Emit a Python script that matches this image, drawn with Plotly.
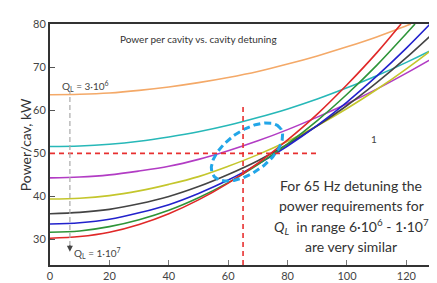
import numpy as np
import plotly.graph_objects as go

# Data
detuning_red = [0, 10, 20, 30, 40, 50, 60, 70, 80, 90, 100, 110, 118.2]
power_red = [30.3, 30.7, 31.7, 33.5, 36.0, 39.2, 43.1, 47.7, 53.1, 59.1, 65.9, 73.3, 80.0]

detuning_green = [0, 10, 20, 30, 40, 50, 60, 70, 80, 90, 100, 110, 120, 122.9]
power_green = [31.7, 32.0, 33.0, 34.6, 36.8, 39.7, 43.2, 47.4, 52.2, 57.6, 63.7, 70.4, 77.8, 80.0]

detuning_blue = [0, 10, 20, 30, 40, 50, 60, 70, 80, 90, 100, 110, 120, 128]
power_blue = [33.6, 33.9, 34.7, 36.2, 38.1, 40.7, 43.8, 47.5, 51.7, 56.5, 61.9, 67.9, 74.4, 80.0]

detuning_black = [0, 10, 20, 30, 40, 50, 60, 70, 80, 90, 100, 110, 120, 130, 132.3]
power_black = [36.0, 36.3, 37.0, 38.3, 40.0, 42.3, 45.1, 48.3, 52.1, 56.4, 61.1, 66.4, 72.2, 78.5, 80.0]

detuning_yellow = [0, 10, 20, 30, 40, 50, 60, 70, 80, 90, 100, 110, 120, 130, 133]
power_yellow = [39.4, 39.6, 40.2, 41.3, 42.8, 44.6, 47.0, 49.7, 52.8, 56.4, 60.4, 64.8, 69.6, 74.8, 76.5]

detuning_magenta = [0, 10, 20, 30, 40, 50, 60, 70, 80, 90, 100, 110, 120, 133]
power_magenta = [44.3, 44.5, 45.0, 45.9, 47.0, 48.6, 50.6, 52.9, 55.5, 58.4, 61.5, 64.9, 68.6, 73.7]

detuning_teal = [0, 10, 20, 30, 40, 50, 60, 70, 80, 90, 100, 110, 120, 130, 133]
power_teal = [51.6, 51.7, 52.1, 52.8, 53.8, 55.0, 56.5, 58.3, 60.3, 62.6, 65.2, 68.0, 71.1, 74.5, 75.6]

detuning_orange = [0, 10, 20, 30, 40, 50, 60, 70, 80, 90, 100, 110, 120, 121.5]
power_orange = [63.6, 63.7, 64.0, 64.6, 65.4, 66.4, 67.6, 69.0, 70.7, 72.6, 74.7, 77.0, 79.6, 80.0]

x_ticks = [0, 20, 40, 60, 80, 100, 120]
y_ticks = [30, 40, 50, 60, 70, 80]

note_lines = [
    "For 65 Hz detuning the",
    "power requirements for",
    "<i>Q<sub>L</sub></i>  in range 6·10<sup>6</sup> - 1·10<sup>7</sup>",
    "are very similar",
]

X_RANGE = [0, 133]
Y_RANGE = [24.1, 80]

series = [
    (detuning_orange, power_orange, "#F4A968"),
    (detuning_teal, power_teal, "#27B8B8"),
    (detuning_magenta, power_magenta, "#B23CC4"),
    (detuning_yellow, power_yellow, "#C4C62C"),
    (detuning_black, power_black, "#444444"),
    (detuning_blue, power_blue, "#2222CC"),
    (detuning_green, power_green, "#2E9438"),
    (detuning_red, power_red, "#E02828"),
]

fig = go.Figure()
for xs, ys, col in series:
    fig.add_trace(go.Scatter(x=xs, y=ys, mode="lines", line=dict(color=col, width=1.6, shape="spline"),
                             showlegend=False, hoverinfo="skip"))

# Dashed ellipse (annotation), built in pixel space and mapped to data coordinates
L, T, W, H = 42, 16, 395, 241
def px_to_data(px, py):
    x = X_RANGE[0] + (px - L) / W * (X_RANGE[1] - X_RANGE[0])
    y = Y_RANGE[1] - (py - T) / H * (Y_RANGE[1] - Y_RANGE[0])
    return x, y
t = np.linspace(0, 2 * np.pi, 160)
a, b, th = 41, 21, np.deg2rad(35)
cx, cy = 239, 144
ex = cx + a * np.cos(t) * np.cos(th) - b * np.sin(t) * np.sin(th)
ey = cy - (a * np.cos(t) * np.sin(th) + b * np.sin(t) * np.cos(th))
edx, edy = px_to_data(ex, ey)
fig.add_trace(go.Scatter(x=edx, y=edy, mode="lines", line=dict(color="#22A6E8", width=3, dash="7px,4px"),
                         showlegend=False, hoverinfo="skip"))

# Red dashed guide lines
fig.add_shape(type="line", x0=65, x1=65, y0=Y_RANGE[0], y1=61.2, line=dict(color="#E83030", width=1.6, dash="5px,4px"))
fig.add_shape(type="line", x0=0, x1=90, y0=50, y1=50, line=dict(color="#E83030", width=1.6, dash="5px,4px"))
# Gray dashed arrow line
fig.add_shape(type="line", x0=6.7, x1=6.7, y0=28.5, y1=64.4, line=dict(color="#AAAAAA", width=1.2, dash="5px,3px"))
fig.add_annotation(x=6.7, y=27.2, ax=6.7, ay=29.0, xref="x", yref="y", axref="x", ayref="y",
                   showarrow=True, arrowhead=2, arrowsize=1, arrowwidth=1.2, arrowcolor="#444444", text="")

font_fam = "Lato, Open Sans, sans-serif"
fig.add_annotation(x=22.9, y=76.6, xref="x", yref="y", text="Power per cavity vs. cavity detuning",
                   showarrow=False, xanchor="left", font=dict(family=font_fam, size=10, color="#333333"))
fig.add_annotation(x=3.2, y=65.7, xref="x", yref="y", text="Q<sub>L</sub> = 3·10<sup>6</sup>",
                   showarrow=False, xanchor="left", font=dict(family=font_fam, size=10, color="#444444"))
fig.add_annotation(x=7.3, y=26.8, xref="x", yref="y", text="Q<sub>L</sub> = 1·10<sup>7</sup>",
                   showarrow=False, xanchor="left", font=dict(family=font_fam, size=10, color="#444444"))
fig.add_annotation(x=109, y=53.4, xref="x", yref="y", text="1",
                   showarrow=False, font=dict(family=font_fam, size=10, color="#444444"))
for line_text, ly in zip(note_lines, [42.65, 37.8, 33.1, 28.5]):
    fig.add_annotation(x=101.5, y=ly, xref="x", yref="y", text=line_text,
                       showarrow=False, align="center", font=dict(family=font_fam, size=14, color="#333333"))
fig.add_annotation(x=0.53, y=-0.085, xref="paper", yref="paper", text="<i>ΔF, Hz</i>", yanchor="top",
                   showarrow=False, font=dict(family=font_fam, size=14, color="#333333"))
fig.add_annotation(x=-0.088, y=0.5, xref="paper", yref="paper", text="Power/cav, kW", textangle=-90,
                   showarrow=False, font=dict(family=font_fam, size=14, color="#333333"))

fig.update_xaxes(range=X_RANGE, tickvals=x_ticks, showgrid=False, zeroline=False, showline=True,
                 linecolor="#333333", linewidth=2, mirror=True, ticks="inside", ticklen=5, tickcolor="#777777",
                 tickfont=dict(family=font_fam, size=11, color="#444444"))
fig.update_yaxes(range=Y_RANGE, tickvals=y_ticks, showgrid=False, zeroline=False, showline=True,
                 linecolor="#333333", linewidth=2, ticks="inside", ticklen=5, tickcolor="#555555",
                 tickfont=dict(family=font_fam, size=11, color="#444444"))
fig.update_layout(width=437, height=283, margin=dict(l=42, r=0, t=16, b=26),
                  paper_bgcolor="white", plot_bgcolor="white", showlegend=False)
fig.write_html("out.html")
